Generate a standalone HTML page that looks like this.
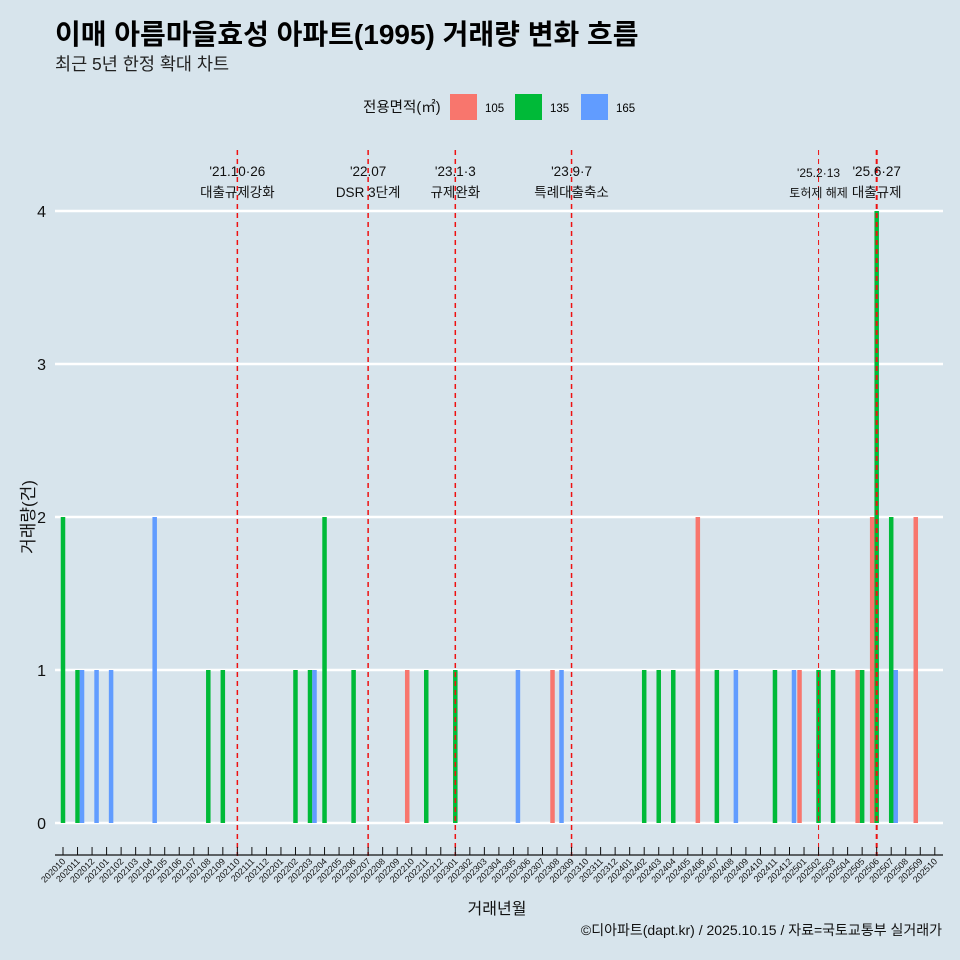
<!DOCTYPE html>
<html><head><meta charset="utf-8">
<style>
html,body{margin:0;padding:0;background:#d7e4ec;}
svg{display:block;font-family:"Liberation Sans","Noto Sans CJK KR",sans-serif;}
</style></head>
<body>
<svg id="chart" width="960" height="960" viewBox="0 0 960 960">
<rect width="960" height="960" fill="#d7e4ec"/>
<text x="55" y="44" font-size="28" font-weight="bold" fill="#000">이매 아름마을효성 아파트(1995) 거래량 변화 흐름</text>
<text x="55" y="70" font-size="17.5" fill="#222">최근 5년 한정 확대 차트</text>
<g>
<text x="363" y="112" font-size="14.5" fill="#111">전용면적(㎡)</text>
<rect x="450" y="94" width="27" height="26" fill="#F8766D"/>
<text x="485" y="112" font-size="11.5">105</text>
<rect x="515" y="94" width="27" height="26" fill="#00BA38"/>
<text x="550" y="112" font-size="11.5">135</text>
<rect x="581" y="94" width="27" height="26" fill="#619CFF"/>
<text x="616" y="112" font-size="11.5">165</text>
</g>
<g id="grid"></g><g id="bars"></g><g id="events"></g><g id="xaxis"></g><g id="yaxis"></g>
<text x="497" y="914" font-size="16" text-anchor="middle" fill="#111">거래년월</text>
<text transform="translate(34,517) rotate(-90)" font-size="17" text-anchor="middle" fill="#111">거래량(건)</text>
<text x="942" y="935" font-size="14" text-anchor="end" fill="#111">©디아파트(dapt.kr) / 2025.10.15 / 자료=국토교통부 실거래가</text>
</svg>
<script>
const months = [];
for (let y = 2020, m = 10; !(y === 2025 && m === 11); ) { months.push(String(y) + String(m).padStart(2,'0')); m++; if (m > 12) { m = 1; y++; } }
const series = ['105','135','165'];
const colors = ['#F8766D','#00BA38','#619CFF'];
const yTicks = [0,1,2,3,4];
// [month, series index, count]
const records = [
['202010',1,2],['202011',1,1],['202011',2,1],['202012',2,1],['202101',2,1],['202104',2,2],
['202108',1,1],['202109',1,1],['202202',1,1],['202203',1,1],['202203',2,1],['202204',1,2],
['202206',1,1],['202210',0,1],['202211',1,1],['202301',1,1],['202305',2,1],['202308',0,1],
['202308',2,1],['202402',1,1],['202403',1,1],['202404',1,1],['202406',0,2],['202407',1,1],
['202408',2,1],['202411',1,1],['202412',2,1],['202501',0,1],['202502',1,1],['202503',1,1],
['202505',0,1],['202505',1,1],['202506',0,2],['202506',1,4],['202507',1,2],['202507',2,1],
['202509',0,2]];
const eventMonths = ['202110','202207','202301','202309','202502','202506'];
const eventLine1 = ["'21.10·26","'22.07","'23.1·3","'23.9·7","'25.2·13","'25.6·27"];
const eventLine2 = ['대출규제강화','DSR 3단계','규제완화','특례대출축소','토허제 해제','대출규제'];
const eventWidth = [1.5,1.5,1.5,1.5,1,2];

const NS='http://www.w3.org/2000/svg';
const X0=63, DX=14.53, Y0=823, DY=153, BW=4.5;
const xs = m => X0 + months.indexOf(m)*DX;
const ys = v => Y0 - v*DY;
function mk(tag, attrs, parent){const e=document.createElementNS(NS,tag);for(const k in attrs)e.setAttribute(k,attrs[k]);document.getElementById(parent).appendChild(e);return e;}

yTicks.forEach(v=>{
  const l=mk('line',{x1:55,x2:943,y1:ys(v),y2:ys(v),stroke:'#fff','stroke-width':2.5},'grid');
  
  
  const t=mk('text',{x:46,y:ys(v)+6,'font-size':16,'text-anchor':'end',fill:'#111'},'yaxis');
  t.textContent=v;
  
  
});

records.forEach(r=>{
  const c=xs(r[0]);
  const x=c-3*BW/2+r[1]*BW;
  const b=mk('rect',{x:x,y:ys(r[2]),width:BW,height:ys(0)-ys(r[2]),fill:colors[r[1]]},'bars');
  
  
});

eventMonths.forEach((m,i)=>{
  const x=xs(m);
  const l=mk('line',{x1:x,x2:x,y1:150,y2:856,stroke:'#ee1111','stroke-width':eventWidth[i],'stroke-dasharray':'5,4'},'events');
  
  
  const fs = i===4?12:13.5;
  const t1=mk('text',{x:x,y:i===4?177:176,'font-size':fs,'text-anchor':'middle',fill:'#111'},'events');
  t1.textContent=eventLine1[i];
  
  
  const t2=mk('text',{x:x,y:197,'font-size':fs,'text-anchor':'middle',fill:'#111'},'events');
  t2.textContent=eventLine2[i];
  
  
});

const ax=mk('line',{x1:55,x2:943,y1:855,y2:855,stroke:'#111','stroke-width':1.2},'xaxis');


months.forEach(m=>{
  const x=xs(m);
  const tk=mk('line',{x1:x,x2:x,y1:847,y2:855,stroke:'#111','stroke-width':1},'xaxis');
  
  
  const t=mk('text',{x:x+3,y:862,'font-size':9,'text-anchor':'end',fill:'#111',transform:`rotate(-45 ${x+3} 862)`},'xaxis');
  t.textContent=m;
  
  
});
</script>
</body></html>
